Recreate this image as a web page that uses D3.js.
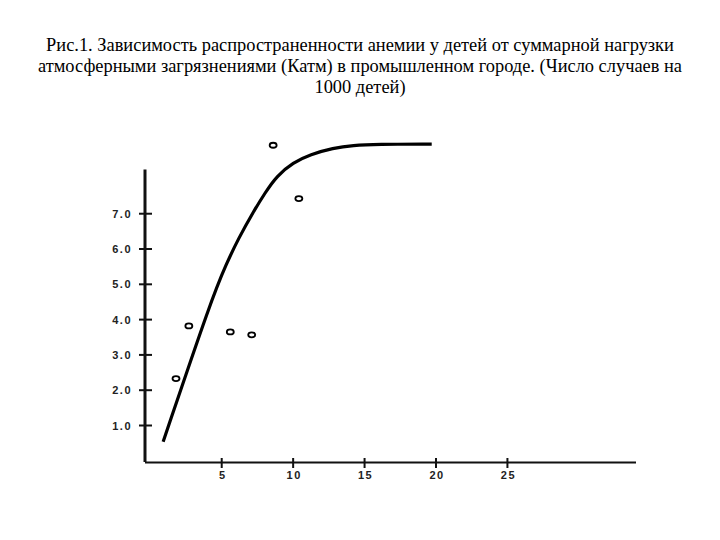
<!DOCTYPE html>
<html lang="ru">
<head>
    <meta charset="UTF-8">
    <title>Анемия и загрязнение</title>
    <script src="https://d3js.org/d3.v7.min.js"></script>
    <style>
        body { margin: 0; background: #fff; }
        svg { display: block; }
        .title { font-family: "Liberation Serif", "DejaVu Serif", serif; font-size: 18.4px; fill: #000; }
        .tick-label { font-family: "Liberation Sans", Arial, sans-serif; font-size: 11px; font-weight: bold; fill: #222; letter-spacing: 1.5px; }
    </style>
</head>
<body>
<div id="chart"></div>
<script>
    // title lines
    const titleLines = [
        "Рис.1. Зависимость распространенности анемии у детей от суммарной нагрузки",
        "атмосферными загрязнениями (Катм) в промышленном городе. (Число случаев на",
        "1000 детей)"
    ];

    // axis ticks
    const xTicks = [5, 10, 15, 20, 25];
    const yTicks = [1, 2, 3, 4, 5, 6, 7];

    // fitted curve (Катм, cases)
    const curveX = [0.9, 4.3, 5.35, 6.16, 7.21, 8.03, 8.85, 10.0, 11.2, 12.8, 14.2, 15.8, 19.7];
    const curveY = [0.54, 4.6, 5.6, 6.29, 7.05, 7.59, 8.07, 8.45, 8.68, 8.86, 8.94, 8.97, 8.97];

    // observed points
    const pointX = [1.8, 2.7, 5.6, 7.1, 10.4, 8.6];
    const pointY = [2.33, 3.82, 3.65, 3.57, 7.43, 8.94];

    const width = 720, height = 540;
    const svg = d3.select("#chart").append("svg")
        .attr("width", width).attr("height", height);

    svg.selectAll("text.title")
        .data(titleLines)
        .join("text")
        .attr("class", "title")
        .attr("x", 360)
        .attr("y", (d, i) => 51 + i * 21)
        .attr("text-anchor", "middle")
        .text(d => d);

    const x = d3.scaleLinear().domain([-0.3, 34]).range([146, 636]);
    const y = d3.scaleLinear().domain([0, 8.25]).range([460.8, 169.6]);

    // y axis
    svg.append("line")
        .attr("x1", 145).attr("x2", 145)
        .attr("y1", y(8.25)).attr("y2", 462)
        .attr("stroke", "#111").attr("stroke-width", 3);

    svg.selectAll("line.ytick")
        .data(yTicks)
        .join("line")
        .attr("class", "ytick")
        .attr("x1", 139).attr("x2", 152)
        .attr("y1", d => y(d)).attr("y2", d => y(d))
        .attr("stroke", "#111").attr("stroke-width", 2);

    svg.selectAll("text.ylab")
        .data(yTicks)
        .join("text")
        .attr("class", "tick-label ylab")
        .attr("x", 132)
        .attr("y", d => y(d) + 4)
        .attr("text-anchor", "end")
        .text(d => d3.format(".1f")(d));

    // x axis
    svg.append("line")
        .attr("x1", 145).attr("x2", 636)
        .attr("y1", 462.5).attr("y2", 462.5)
        .attr("stroke", "#111").attr("stroke-width", 2);

    svg.selectAll("line.xtick")
        .data(xTicks)
        .join("line")
        .attr("class", "xtick")
        .attr("x1", d => x(d)).attr("x2", d => x(d))
        .attr("y1", 458).attr("y2", 468)
        .attr("stroke", "#111").attr("stroke-width", 2);

    svg.selectAll("text.xlab")
        .data(xTicks)
        .join("text")
        .attr("class", "tick-label xlab")
        .attr("x", d => x(d) + 1)
        .attr("y", 479)
        .attr("text-anchor", "middle")
        .text(d => d);

    // curve, smoothed through the read-off points
    const curve = curveX.map((v, i) => [v, curveY[i]]);
    svg.append("path")
        .datum(curve)
        .attr("d", d3.line().x(d => x(d[0])).y(d => y(d[1])).curve(d3.curveBasis))
        .attr("fill", "none")
        .attr("stroke", "#000")
        .attr("stroke-width", 3.2);

    // points
    const pts = pointX.map((v, i) => [v, pointY[i]]);
    svg.selectAll("ellipse.pt")
        .data(pts)
        .join("ellipse")
        .attr("class", "pt")
        .attr("cx", d => x(d[0]))
        .attr("cy", d => y(d[1]))
        .attr("rx", 3.5).attr("ry", 2.5)
        .attr("fill", "#fff")
        .attr("stroke", "#000")
        .attr("stroke-width", 1.8);
</script>
</body>
</html>
